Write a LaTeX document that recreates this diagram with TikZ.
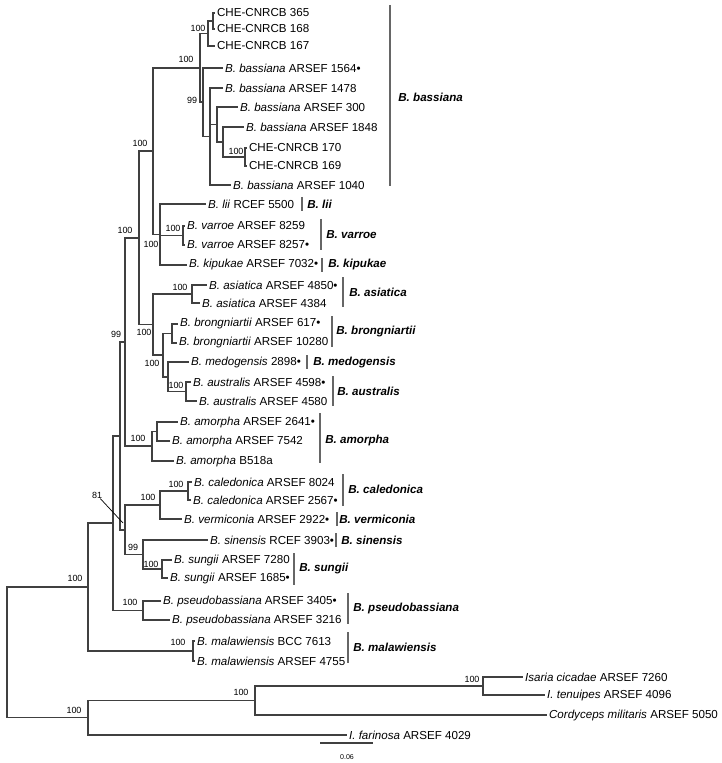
\documentclass[tikz,border=0pt]{standalone}
\usepackage{fontspec}
\setmainfont{Liberation Sans}
\tikzset{
  br/.style={draw=black!75, line width=0.6pt},
  leaf/.style={anchor=west, inner xsep=1pt, inner ysep=0pt, font=\fontsize{6.6}{7.5}\selectfont},
  bs/.style={inner sep=0pt, font=\fontsize{5.1}{6}\selectfont},
  bar/.style={draw=black!60, line width=0.9pt},
  clade/.style={anchor=west, inner sep=0pt, font=\fontsize{6.6}{7.5}\selectfont\bfseries\itshape},
}
\begin{document}
\begin{tikzpicture}[x=0.02cm, y=-0.02cm]
        \useasboundingbox (0,0) rectangle (722,763);

        % Terminales
        \foreach \nm/\x/\y/\txt in {
            t1/215/13/{CHE-CNRCB 365},
            t2/215/29/{CHE-CNRCB 168},
            t3/215/46/{CHE-CNRCB 167},
            t4/223/68/{\textit{B. bassiana} ARSEF 1564•},
            t5/223/88/{\textit{B. bassiana} ARSEF 1478},
            t6/238/107/{\textit{B. bassiana} ARSEF 300},
            t7/244/127/{\textit{B. bassiana} ARSEF 1848},
            t8/247/148/{CHE-CNRCB 170},
            t9/247/166/{CHE-CNRCB 169},
            t10/231/185/{\textit{B. bassiana} ARSEF 1040},
            t11/206/204/{\textit{B. lii} RCEF 5500},
            t12/185/226/{\textit{B. varroe} ARSEF 8259},
            t13/185/245/{\textit{B. varroe} ARSEF 8257•},
            t14/187/265/{\textit{B. kipukae} ARSEF 7032•},
            t15/207/285/{\textit{B. asiatica} ARSEF 4850•},
            t16/200/303/{\textit{B. asiatica} ARSEF 4384},
            t17/178/324/{\textit{B. brongniartii} ARSEF 617•},
            t18/177/343/{\textit{B. brongniartii} ARSEF 10280},
            t19/189/362/{\textit{B. medogensis} 2898•},
            t20/191/382/{\textit{B. australis} ARSEF 4598•},
            t21/197/401/{\textit{B. australis} ARSEF 4580},
            t22/178/422/{\textit{B. amorpha} ARSEF 2641•},
            t23/170/441/{\textit{B. amorpha} ARSEF 7542},
            t24/174/461/{\textit{B. amorpha} B518a},
            t25/192/482/{\textit{B. caledonica} ARSEF 8024},
            t26/191/500/{\textit{B. caledonica} ARSEF 2567•},
            t27/182/519/{\textit{B. vermiconia} ARSEF 2922•},
            t28/208/540/{\textit{B. sinensis} RCEF 3903•},
            t29/172/560/{\textit{B. sungii} ARSEF 7280},
            t30/168/578/{\textit{B. sungii} ARSEF 1685•},
            t31/161/601/{\textit{B. pseudobassiana} ARSEF 3405•},
            t32/170/620/{\textit{B. pseudobassiana} ARSEF 3216},
            t33/195/641/{\textit{B. malawiensis} BCC 7613},
            t34/195/661/{\textit{B. malawiensis} ARSEF 4755},
            t35/523/677/{\textit{Isaria cicadae} ARSEF 7260},
            t36/545/695/{\textit{I. tenuipes} ARSEF 4096},
            t37/547/715/{\textit{Cordyceps militaris} ARSEF 5050},
            t38/347/735/{\textit{I. farinosa} ARSEF 4029}} {
            \node[leaf] (\nm) at (\x,\y) {\txt};
        }

        % Nodos internos
        \foreach \nm/\x/\y in {
            cheA/213/21, cheB/208/33.5, bas/200/68, basC/203/102,
            basE/210/136.5, basF/217/124.5, basG/223/142, cheD/245/157,
            liiA/153/151, liiB/160/234.5, var/183/235.5, beaA/139/238,
            beaB/153/324.5, asi/192/294, beaC/163/355, bro/172/333.5,
            beaD/168/377, aus/186/391.5, beaE/125/342, amo/152/446,
            amoB/157/431.5, beaF/120/436, beaG/125/530, calV/160/505,
            cal/188/491, sinS/143/554.5, sun/162/569, beaH/113/523,
            pse/143/610.5, ing/88/587, mal/193/651, root/7/652,
            out/88/717.75, outB/255/700.5, isa/483/686} {
            \coordinate (\nm) at (\x,\y);
        }

        % Ramas
        \foreach \a/\b in {
            bas/cheB, bas/basC, cheB/cheA, basC/basE, basE/basF, basF/basG,
            basG/cheD, liiA/bas, liiA/liiB, liiB/var, beaA/liiA, beaA/beaB,
            beaB/asi, beaB/beaC, beaC/bro, beaC/beaD, beaD/aus, beaE/beaA,
            beaE/amo, amo/amoB, beaF/beaE, beaF/beaG, beaG/calV, beaG/sinS,
            calV/cal, sinS/sun, beaH/beaF, beaH/pse, ing/beaH, ing/mal,
            root/ing, root/out, out/outB, outB/isa} {
            \draw[br] (\a) |- (\b);
        }
        \foreach \a/\b in {
            cheA/t1, cheA/t2, cheB/t3, basC/t4, basE/t5, basF/t6, basG/t7,
            cheD/t8, cheD/t9, basE/t10, liiB/t11, var/t12, var/t13, liiB/t14,
            asi/t15, asi/t16, bro/t17, bro/t18, beaD/t19, aus/t20, aus/t21,
            amoB/t22, amoB/t23, amo/t24, cal/t25, cal/t26, calV/t27, sinS/t28,
            sun/t29, sun/t30, pse/t31, pse/t32, mal/t33, mal/t34, isa/t35,
            isa/t36, outB/t37, out/t38} {
            \draw[br] (\a) |- (\b.west);
        }

        % Bootstrap
        \foreach \x/\y/\v/\nm in {
            198/28/100/bsA, 186/59/100/bsB, 192/100/99/bsC, 236/151/100/bsD,
            173/228/100/bsE, 151/244/100/bsF, 140/143/100/bsG, 125/230/100/bsH,
            180/287/100/bsI, 144/332/100/bsJ, 152/363/100/bsK, 176/385/100/bsL,
            116/334/99/bsM, 138/438/100/bsN, 176/484/100/bsO, 148/497/100/bsP,
            133/547/99/bsQ, 151/564/100/bsR, 97/495/81/bsS, 130/602/100/bsT,
            178/642/100/bsU, 75/578/100/bsV, 74/710/100/bsW, 241/692/100/bsX,
            472/679/100/bsY} {
            \node[bs] (\nm) at (\x,\y) {\v};
        }
        \coordinate (lead) at (123,523);
        \draw[black, line width=0.4pt] (bsS) -- (lead);

        % Especies
        \foreach \bx/\ya/\yb/\lx/\ly/\txt/\nm in {
            390/5/186/398/97/B. bassiana/cBas,
            302/197/211/307/204/B. lii/cLii,
            321/219/250/326/235/B. varroe/cVar,
            322/258/272/328/265/B. kipukae/cKip,
            343/277/307/349/292/B. asiatica/cAsi,
            332/316/347/336/332/B. brongniartii/cBro,
            307/355/369/313/362/B. medogensis/cMed,
            333/376/406/337/391/B. australis/cAus,
            320/413/463/325/440/B. amorpha/cAmo,
            343/474/506/348/489/B. caledonica/cCal,
            337/512/526/339/519/B. vermiconia/cVer,
            336/533/547/341/540/B. sinensis/cSin,
            294/553/585/299/568/B. sungii/cSun,
            348/593/624/353/608/B. pseudobassiana/cPse,
            348/632/663/353/647/B. malawiensis/cMal} {
            \draw[bar] (\bx,\ya) -- (\bx,\yb);
            \node[clade] (\nm) at (\lx,\ly) {\txt};
        }

        % Escala
        \coordinate (sbL) at (320,743);
        \coordinate (sbR) at (373,743);
        \draw[br] (sbL) -- (sbR);
        \node[inner sep=0pt, font=\fontsize{4}{5}\selectfont] (sb) at (347,757) {0.06};
    \end{tikzpicture}
\end{document}
